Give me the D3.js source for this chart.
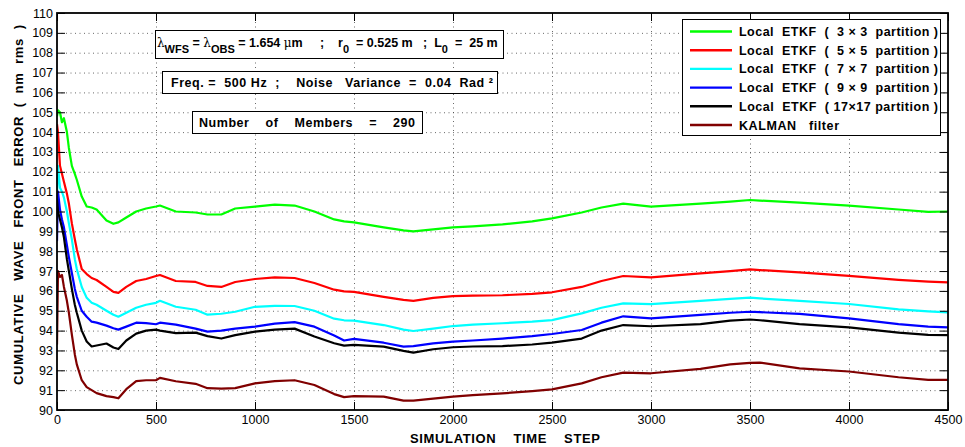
<!DOCTYPE html>
<html>
<head>
<meta charset="utf-8">
<script src="https://cdn.jsdelivr.net/npm/d3@7"></script>
<style>
  body { margin: 0; background: #fff; }
  svg text { font-family: "Liberation Sans", Arial, sans-serif; white-space: pre; }
</style>
</head>
<body>
<div id="chart"></div>
<script>
// simulation time steps where values were read
const steps = [0, 5, 15, 25, 35, 50, 60, 75, 90, 100, 125, 150, 175, 200, 250, 285, 310, 350, 400, 450,
  500, 520, 600, 700, 760, 830, 900, 1000, 1100, 1200, 1300, 1400, 1450, 1500, 1650, 1750, 1800, 1900,
  2000, 2100, 2250, 2400, 2500, 2650, 2750, 2860, 3000, 3250, 3400, 3500, 3550, 3750, 4000, 4250, 4400, 4500];

const etkf3 = [104.8, 105.1, 105.0, 104.5, 104.7, 104.0, 103.2, 102.3, 101.9, 101.6, 100.75, 100.25, 100.2, 100.1,
  99.55, 99.38, 99.45, 99.7, 100.0, 100.15, 100.25, 100.3, 100.0, 99.95, 99.85, 99.85, 100.15, 100.25, 100.35, 100.3,
  100.0, 99.6, 99.5, 99.45, 99.2, 99.05, 99.0, 99.1, 99.2, 99.25, 99.35, 99.5, 99.65, 99.95, 100.2, 100.4,
  100.25, 100.4, 100.5, 100.58, 100.55, 100.45, 100.3, 100.1, 99.98, 100.0];

const etkf5 = [104.4, 104.0, 102.3, 101.9, 101.5, 100.9, 100.4, 99.4, 98.6, 98.1, 97.1, 96.85, 96.65, 96.55,
  96.2, 95.95, 95.9, 96.2, 96.5, 96.6, 96.75, 96.8, 96.5, 96.45, 96.25, 96.2, 96.45, 96.6, 96.68, 96.65,
  96.4, 96.06, 95.98, 95.95, 95.7, 95.55, 95.5, 95.65, 95.74, 95.76, 95.78, 95.85, 95.93, 96.2, 96.5, 96.75,
  96.68, 96.88, 97.0, 97.08, 97.05, 96.93, 96.76, 96.56, 96.47, 96.43];

const etkf7 = [100.8, 102.3, 101.2, 101.0, 100.7, 100.0, 99.4, 98.6, 97.6, 97.1, 96.2, 95.65, 95.4, 95.3,
  95.0, 94.8, 94.7, 94.9, 95.15, 95.3, 95.4, 95.5, 95.2, 95.05, 94.8, 94.85, 94.95, 95.2, 95.25, 95.24,
  95.0, 94.6, 94.52, 94.5, 94.28, 94.05, 93.98, 94.1, 94.23, 94.3, 94.37, 94.45, 94.53, 94.87, 95.15, 95.37,
  95.33, 95.5, 95.6, 95.66, 95.62, 95.5, 95.34, 95.07, 94.97, 94.92];

const etkf9 = [98.5, 101.0, 100.1, 99.6, 99.2, 98.3, 97.7, 96.9, 96.1, 95.7, 95.0, 94.7, 94.45, 94.4,
  94.25, 94.12, 94.05, 94.2, 94.4, 94.38, 94.32, 94.4, 94.3, 94.1, 93.95, 94.0, 94.1, 94.2, 94.35, 94.43,
  94.2, 93.75, 93.5, 93.58, 93.39, 93.19, 93.22, 93.36, 93.44, 93.5, 93.6, 93.72, 93.83, 94.03, 94.4, 94.72,
  94.62, 94.79, 94.9, 94.95, 94.93, 94.84, 94.62, 94.33, 94.2, 94.16];

const etkf17 = [100.6, 100.0, 99.6, 99.2, 98.7, 97.6, 97.0, 96.1, 95.3, 94.9, 94.0, 93.45, 93.2, 93.25,
  93.35, 93.15, 93.07, 93.5, 93.85, 94.0, 94.05, 94.0, 93.87, 93.9, 93.72, 93.6, 93.77, 93.95, 94.05, 94.1,
  93.7, 93.36, 93.24, 93.28, 93.19, 92.98, 92.89, 93.06, 93.16, 93.2, 93.22, 93.3, 93.39, 93.6, 94.0, 94.28,
  94.22, 94.33, 94.5, 94.56, 94.52, 94.33, 94.16, 93.9, 93.78, 93.77];

const kalman = [93.3, 97.0, 96.7, 96.8, 96.2, 95.5, 94.9, 93.8, 92.8, 92.3, 91.5, 91.15, 91.0, 90.85,
  90.7, 90.65, 90.59, 91.05, 91.45, 91.5, 91.5, 91.62, 91.45, 91.32, 91.1, 91.08, 91.1, 91.34, 91.45, 91.5,
  91.26, 90.8, 90.65, 90.7, 90.67, 90.47, 90.47, 90.57, 90.67, 90.75, 90.84, 90.95, 91.04, 91.34, 91.65, 91.88,
  91.85, 92.07, 92.3, 92.37, 92.39, 92.1, 91.94, 91.65, 91.52, 91.52];

const seriesNames = [
  'Local  ETKF  (  3 \u00d7 3  partition )',
  'Local  ETKF  (  5 \u00d7 5  partition )',
  'Local  ETKF  (  7 \u00d7 7  partition )',
  'Local  ETKF  (  9 \u00d7 9  partition )',
  'Local  ETKF  ( 17\u00d717 partition )',
  'KALMAN   filter'
];
const seriesColors = ['#00ff00', '#ff0000', '#00ffff', '#0000ff', '#000000', '#800000'];
const seriesValues = [etkf3, etkf5, etkf7, etkf9, etkf17, kalman];

const xTicks = d3.range(0, 4501, 500);
const yTicks = d3.range(90, 111, 1);

const W = 965, H = 447;
const m = { left: 57, right: 17, top: 13, bottom: 37 };

const svg = d3.select('#chart').append('svg')
              .attr('width', W)
              .attr('height', H);

const x = d3.scaleLinear().domain([0, 4500]).range([m.left, W - m.right]);
const y = d3.scaleLinear().domain([90, 110]).range([H - m.bottom, m.top]);

// dotted grid
const grid = svg.append('g').attr('class', 'grid')
                .attr('stroke', '#444')
                .attr('stroke-width', 0.8)
                .attr('stroke-dasharray', '1,3.5');
grid.selectAll('line.gx')
    .data(xTicks.slice(1, -1))
    .enter().append('line')
    .attr('x1', d => x(d) + 0.5).attr('x2', d => x(d) + 0.5)
    .attr('y1', y(110)).attr('y2', y(90));
grid.selectAll('line.gy')
    .data(yTicks.slice(1, -1))
    .enter().append('line')
    .attr('x1', x(0)).attr('x2', x(4500))
    .attr('y1', d => y(d) + 0.5).attr('y2', d => y(d) + 0.5);

// curves
svg.append('clipPath').attr('id', 'plot')
   .append('rect')
   .attr('x', x(0)).attr('y', y(110))
   .attr('width', x(4500) - x(0)).attr('height', y(90) - y(110));

const line = d3.line()
               .x((d, i) => x(steps[i]))
               .y(d => y(d));

svg.append('g').attr('clip-path', 'url(#plot)')
   .selectAll('path')
   .data(seriesValues)
   .enter().append('path')
   .attr('fill', 'none')
   .attr('stroke', (d, i) => seriesColors[i])
   .attr('stroke-width', 2.2)
   .attr('stroke-linejoin', 'round')
   .attr('d', line);

// axes, ticks on all four sides pointing inward
const tick = 8;
const axisBottom = d3.axisBottom(x).tickValues(xTicks).tickFormat(d3.format('d'))
                     .tickSizeInner(-tick).tickSizeOuter(0).tickPadding(6);
const axisTop = d3.axisTop(x).tickValues(xTicks).tickSizeInner(-tick).tickSizeOuter(0).tickFormat('');
const axisLeft = d3.axisLeft(y).tickValues(yTicks).tickSizeInner(-tick).tickSizeOuter(0).tickPadding(4);
const axisRight = d3.axisRight(y).tickValues(yTicks).tickSizeInner(-tick).tickSizeOuter(0).tickFormat('');

function styleAxis(g) {
    g.select('.domain').remove();
    g.selectAll('.tick line').attr('stroke', '#000').attr('stroke-width', 1);
    g.selectAll('.tick text').attr('fill', '#000').style('font-size', '12.5px');
}

svg.append('g').attr('transform', `translate(0,${y(90)})`).call(axisBottom).call(styleAxis)
   .selectAll('.tick text').attr('dy', '0.6em');
svg.append('g').attr('transform', `translate(0,${y(110)})`).call(axisTop).call(styleAxis);
svg.append('g').attr('transform', `translate(${x(0)},0)`).call(axisLeft).call(styleAxis);
svg.append('g').attr('transform', `translate(${x(4500)},0)`).call(axisRight).call(styleAxis);

svg.append('rect')
   .attr('x', x(0)).attr('y', y(110))
   .attr('width', x(4500) - x(0)).attr('height', y(90) - y(110))
   .attr('fill', 'none')
   .attr('stroke', '#000')
   .attr('stroke-width', 1.8);

// axis titles
svg.append('text')
   .attr('x', 505).attr('y', 443)
   .attr('text-anchor', 'middle')
   .attr('font-weight', 'bold').attr('font-size', 13)
   .attr('textLength', 190).attr('lengthAdjust', 'spacing')
   .text('SIMULATION    TIME    STEP');

svg.append('text')
   .attr('transform', 'translate(23,205) rotate(-90)')
   .attr('text-anchor', 'middle')
   .attr('font-weight', 'bold').attr('font-size', 13)
   .attr('textLength', 360).attr('lengthAdjust', 'spacing')
   .text('CUMULATIVE   WAVE   FRONT   ERROR  (  nm  rms  )');

// annotation boxes
function box(x0, y0, w, h) {
    svg.append('rect')
       .attr('x', x0 + 0.5).attr('y', y0 + 0.5)
       .attr('width', w).attr('height', h)
       .attr('fill', '#fff').attr('stroke', '#000').attr('stroke-width', 1);
}

box(155, 30, 348, 28);
const t1 = svg.append('text')
              .attr('x', 157).attr('y', 47)
              .attr('font-weight', 'bold').attr('font-size', 12.5);
function greek(ch) {
    t1.append('tspan').attr('font-weight', 'normal').attr('font-family', 'DejaVu Serif')
      .attr('font-size', 12).text(ch);
}
function sub(s) {
    t1.append('tspan').attr('dy', 6).attr('font-size', 11).text(s);
}
greek('\u03bb');
sub('WFS');
t1.append('tspan').attr('dy', -6).text(' = ');
greek('\u03bb');
sub('OBS');
t1.append('tspan').attr('dy', -6).text(' = 1.654 ');
greek('\u03bc');
t1.append('tspan').text('m     ;    r');
sub('0');
t1.append('tspan').attr('dy', -6).text('  = 0.525 m   ;  L');
sub('0');
t1.append('tspan').attr('dy', -6).text('  =  25 m');

box(162, 71, 335, 22);
svg.append('text')
   .attr('x', 171).attr('y', 87)
   .attr('font-weight', 'bold').attr('font-size', 12.5)
   .attr('textLength', 322).attr('lengthAdjust', 'spacing')
   .text('Freq. =  500 Hz  ;    Noise   Variance  =  0.04  Rad \u00b2');

box(192, 111, 230, 22);
svg.append('text')
   .attr('x', 199).attr('y', 127)
   .attr('font-weight', 'bold').attr('font-size', 12.5)
   .attr('textLength', 216).attr('lengthAdjust', 'spacing')
   .text('Number    of    Members    =    290');

// legend
box(682, 19, 258, 116);
const legend = svg.append('g');
const rows = legend.selectAll('g')
                   .data(seriesNames)
                   .enter().append('g')
                   .attr('transform', (d, i) => `translate(0,${31.5 + i * 18.7})`);
rows.append('line')
    .attr('x1', 690).attr('x2', 732)
    .attr('stroke', (d, i) => seriesColors[i])
    .attr('stroke-width', 2.4);
rows.append('text')
    .attr('x', 739).attr('y', 4.5)
    .attr('font-weight', 'bold').attr('font-size', 12.5)
    .attr('textLength', (d, i) => i < 5 ? 199 : 100)
    .attr('lengthAdjust', 'spacing')
    .text(d => d);
</script>
</body>
</html>
